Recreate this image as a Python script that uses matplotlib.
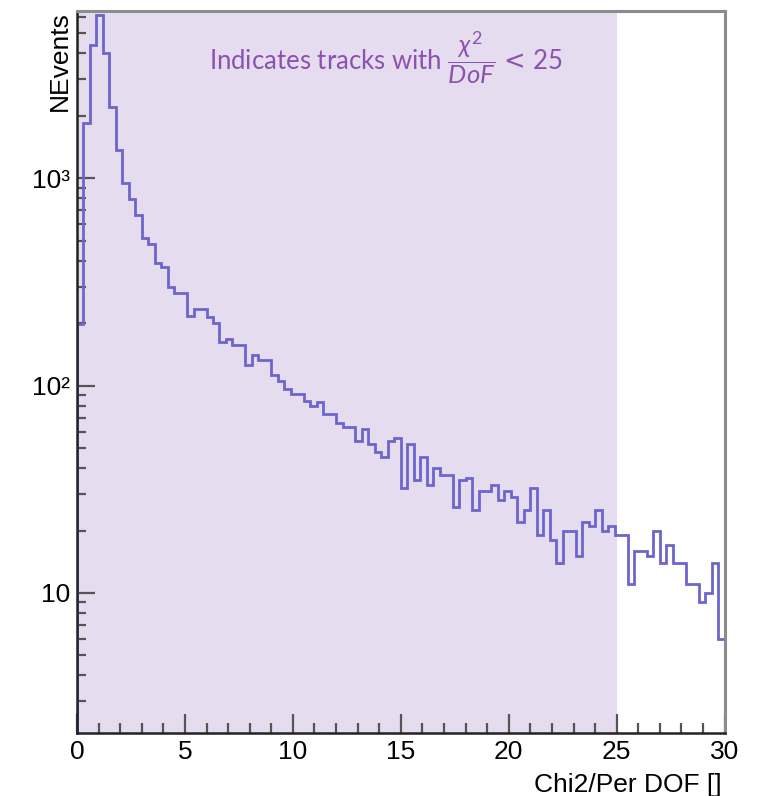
import numpy as np
import matplotlib
matplotlib.use("Agg")
import matplotlib.pyplot as plt
from matplotlib.ticker import FixedLocator, FixedFormatter, LogLocator, MultipleLocator, NullFormatter

# Track-fit chi2/DoF distribution, 100 bins from 0 to 30
x_min, x_max, n_bins = 0.0, 30.0, 100
counts = [
    198, 1850, 4400, 6100, 3990, 2210, 1365, 942, 792, 664,
    512, 479, 388, 371, 299, 278, 278, 216, 233, 233,
    213, 201, 162, 167, 157, 157, 126, 140, 133, 133,
    113, 105, 96, 91, 91, 84, 80, 83, 73, 73,
    66, 63, 63, 54, 62, 52, 48, 45, 54, 56,
    32, 52, 35, 45, 33, 40, 37, 37, 26, 35,
    36, 25, 31, 31, 33, 28, 31, 29, 22, 25,
    32, 19, 25, 18, 14, 20, 20, 15, 22, 21,
    25, 20, 21, 19, 19, 11, 16, 16, 15, 20,
    14, 17, 14, 14, 11, 11, 9, 10, 14, 6,
]
chi2_cut = 25
x_ticks = [0, 5, 10, 15, 20, 25, 30]
y_ticks = [10, 100, 1000]
y_tick_labels = ["10", "10\u00b2", "10\u00b3"]
x_label = "Chi2/Per DOF []"
y_label = "NEvents"
note = r"Indicates tracks with $\dfrac{\chi^2}{DoF}\,\mathsf{<}\,25$"

plt.rcParams["mathtext.fontset"] = "custom"
plt.rcParams["mathtext.rm"] = "Lato"
plt.rcParams["mathtext.it"] = "Lato:italic"
plt.rcParams["mathtext.sf"] = "DejaVu Sans"

label_font = ["Liberation Sans", "DejaVu Sans"]

fig = plt.figure(figsize=(7.62, 7.96), dpi=100)
ax = fig.add_axes([0.101, 0.079, 0.850, 0.907])

edges = np.linspace(x_min, x_max, n_bins + 1)

ax.axvspan(x_min, chi2_cut, color="#e5dcef", lw=0, zorder=0)
ax.stairs(counts, edges, baseline=0.5, color="#6c66cc", lw=2.0, zorder=2)

ax.set_xlim(x_min, x_max)
ax.set_yscale("log")
ax.set_ylim(2.11, 6380)

ax.xaxis.set_major_locator(FixedLocator(x_ticks))
ax.xaxis.set_minor_locator(MultipleLocator(1))
ax.yaxis.set_major_locator(FixedLocator(y_ticks))
ax.yaxis.set_major_formatter(FixedFormatter(y_tick_labels))
ax.yaxis.set_minor_locator(LogLocator(base=10, subs=np.arange(2, 10)))
ax.yaxis.set_minor_formatter(NullFormatter())

ax.tick_params(axis="both", which="both", direction="in", colors="#555555",
               labelcolor="black", top=False, right=False)
ax.tick_params(axis="x", which="major", length=14, width=1.6, pad=5)
ax.tick_params(axis="x", which="minor", length=7, width=1.6)
ax.tick_params(axis="y", which="major", length=13, width=1.6, pad=5)
ax.tick_params(axis="y", which="minor", length=6.5, width=1.6)
for lab in ax.get_xticklabels() + ax.get_yticklabels():
    lab.set_fontfamily(label_font)
    lab.set_fontsize(19)

for side in ("left", "bottom"):
    ax.spines[side].set_color("#222222")
    ax.spines[side].set_linewidth(1.8)
for side in ("top", "right"):
    ax.spines[side].set_color("#8c8c8c")
    ax.spines[side].set_linewidth(2.2)

ax.set_xlabel(x_label, fontsize=19, family=label_font, ha="right")
ax.xaxis.set_label_coords(0.995, -0.055)
ax.set_ylabel(y_label, fontsize=19, family=label_font, ha="right")
ax.yaxis.set_label_coords(-0.008, 1.0)

ax.text(0.477, 0.918, note, transform=ax.transAxes, ha="center", va="baseline",
        fontsize=18.5, color="#8b52b0", family=["Lato", "DejaVu Sans"], zorder=3)

fig.savefig("out.png", dpi=100)
